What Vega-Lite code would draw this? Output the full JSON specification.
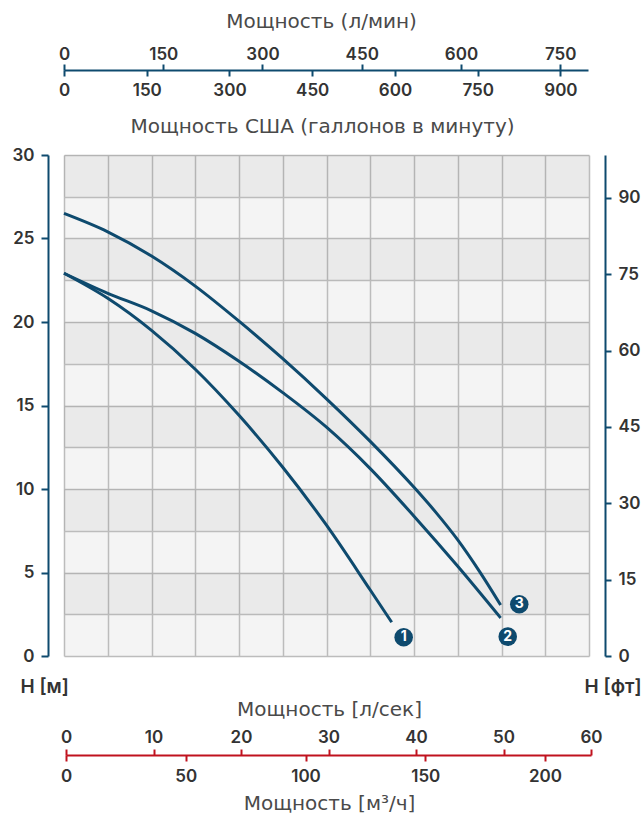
{
  "$schema": "https://vega.github.io/schema/vega-lite/v6.json",
  "width": 525,
  "height": 501,
  "autosize": {"type": "none"},
  "padding": {"left": 64, "top": 155, "right": 55, "bottom": 160},
  "background": "white",
  "config": {
    "view": {"fill": "#f4f4f4", "stroke": null},
    "font": "Inter",
    "axis": {
      "labelFont": "Inter", "labelFontSize": 17, "labelFontWeight": 600, "labelColor": "#333333",
      "titleFont": "DejaVu Sans", "titleFontSize": 20, "titleFontWeight": 400, "titleColor": "#4a4a4a",
      "labelOverlap": false, "labelFlush": false, "labelBound": false, "grid": false,
      "domainWidth": 2, "tickWidth": 2, "tickSize": 6
    }
  },
  "datasets": {
    "curves": [
      {"pump": "1", "q": 0, "h": 22.92}, {"pump": "1", "q": 5, "h": 21.42}, {"pump": "1", "q": 10, "h": 19.5},
      {"pump": "1", "q": 15, "h": 17.17}, {"pump": "1", "q": 20, "h": 14.41}, {"pump": "1", "q": 25, "h": 11.3},
      {"pump": "1", "q": 30, "h": 7.83}, {"pump": "1", "q": 35, "h": 3.95}, {"pump": "1", "q": 37.45, "h": 2.02},
      {"pump": "2", "q": 0, "h": 22.92}, {"pump": "2", "q": 5, "h": 21.72}, {"pump": "2", "q": 10, "h": 20.67},
      {"pump": "2", "q": 15, "h": 19.32}, {"pump": "2", "q": 20, "h": 17.65}, {"pump": "2", "q": 25, "h": 15.77},
      {"pump": "2", "q": 30, "h": 13.7}, {"pump": "2", "q": 35, "h": 11.22}, {"pump": "2", "q": 40, "h": 8.37},
      {"pump": "2", "q": 45, "h": 5.37}, {"pump": "2", "q": 49.9, "h": 2.28},
      {"pump": "3", "q": 0, "h": 26.5}, {"pump": "3", "q": 5, "h": 25.4}, {"pump": "3", "q": 10, "h": 23.95},
      {"pump": "3", "q": 15, "h": 22.15}, {"pump": "3", "q": 20, "h": 20.05}, {"pump": "3", "q": 25, "h": 17.8},
      {"pump": "3", "q": 30, "h": 15.4}, {"pump": "3", "q": 35, "h": 12.85}, {"pump": "3", "q": 40, "h": 10.1},
      {"pump": "3", "q": 42.5, "h": 8.6}, {"pump": "3", "q": 45, "h": 6.95}, {"pump": "3", "q": 47.5, "h": 5.05},
      {"pump": "3", "q": 49.9, "h": 3.05}
    ],
    "labels": [
      {"pump": "1", "q": 38.82, "h": 1.12},
      {"pump": "2", "q": 50.71, "h": 1.16},
      {"pump": "3", "q": 52.03, "h": 3.1}
    ],
    "bands": [
      {"lo": 2.5, "hi": 5}, {"lo": 7.5, "hi": 10}, {"lo": 12.5, "hi": 15},
      {"lo": 17.5, "hi": 20}, {"lo": 22.5, "hi": 25}, {"lo": 27.5, "hi": 30}
    ]
  },
  "layer": [
    {
      "data": {"name": "bands"},
      "mark": {"type": "rect", "fill": "#000000", "fillOpacity": 0.04},
      "encoding": {
        "x": {"datum": 0, "type": "quantitative", "scale": {"domain": [0, 60], "nice": false}, "axis": null},
        "x2": {"datum": 60},
        "y": {"field": "lo", "type": "quantitative", "scale": {"domain": [0, 30], "nice": false},
          "axis": {"orient": "left", "values": [0, 2.5, 5, 7.5, 10, 12.5, 15, 17.5, 20, 22.5, 25, 27.5, 30],
            "grid": true, "gridColor": "#bcbcbc", "gridWidth": 1.5, "labels": false, "ticks": false, "domain": false, "title": null}},
        "y2": {"field": "hi"}
      }
    },
    {
      "data": {"name": "curves"},
      "mark": {"type": "line", "interpolate": "monotone", "strokeWidth": 3, "color": "#0e4a6e", "strokeCap": "butt"},
      "encoding": {
        "x": {"field": "q", "type": "quantitative", "scale": {"domain": [0, 60], "nice": false},
          "axis": {"orient": "bottom", "values": [0, 5, 10, 15, 20, 25, 30, 35, 40, 45, 50, 55, 60],
            "grid": true, "gridColor": "#bcbcbc", "gridWidth": 1.5, "labels": false, "ticks": false, "domain": false, "title": null}},
        "y": {"field": "h", "type": "quantitative", "scale": {"domain": [0, 30], "nice": false},
          "axis": {"orient": "left", "offset": 16, "values": [0, 5, 10, 15, 20, 25, 30],
            "domainColor": "#0e4a6e", "tickColor": "#0e4a6e", "tickSize": 7, "labelPadding": 7,
            "title": "H [м]", "titleAngle": 0, "titleX": -28, "titleY": 531, "titleAlign": "left", "titleBaseline": "middle",
            "titleFont": "Inter", "titleFontWeight": 600, "titleFontSize": 19, "titleColor": "#333333"}},
        "detail": {"field": "pump"}
      }
    },
    {
      "data": {"name": "labels"},
      "mark": {"type": "circle", "size": 345, "opacity": 1, "color": "#0e4a6e"},
      "encoding": {
        "x": {"field": "q", "type": "quantitative", "scale": {"domain": [0, 60], "nice": false}, "axis": null},
        "y": {"field": "h", "type": "quantitative", "scale": {"domain": [0, 30], "nice": false}, "axis": null}
      }
    },
    {
      "data": {"name": "labels"},
      "mark": {"type": "text", "color": "white", "fontWeight": 700, "fontSize": 14, "font": "Inter", "baseline": "middle", "align": "center"},
      "encoding": {
        "x": {"field": "q", "type": "quantitative", "scale": {"domain": [0, 60], "nice": false}, "axis": null},
        "y": {"field": "h", "type": "quantitative", "scale": {"domain": [0, 30], "nice": false}, "axis": null},
        "text": {"field": "pump"}
      }
    },
    {
      "data": {"name": "labels"},
      "mark": {"type": "point", "opacity": 0},
      "encoding": {
        "y": {"field": "h", "type": "quantitative", "scale": {"domain": [0, 98.43], "nice": false},
          "axis": {"orient": "right", "offset": 16, "values": [0, 15, 30, 45, 60, 75, 90],
            "domainColor": "#0e4a6e", "tickColor": "#0e4a6e", "tickSize": 6, "labelPadding": 7,
            "title": "H [фт]", "titleAngle": 0, "titleX": 36, "titleY": 531, "titleAlign": "right", "titleBaseline": "middle",
            "titleFont": "Inter", "titleFontWeight": 600, "titleFontSize": 19, "titleColor": "#333333"}}
      }
    },
    {
      "data": {"name": "labels"},
      "mark": {"type": "point", "opacity": 0},
      "encoding": {
        "x": {"field": "q", "type": "quantitative", "scale": {"domain": [0, 792], "range": [0, 524], "nice": false},
          "axis": {"orient": "top", "offset": 85, "values": [0, 150, 300, 450, 600, 750],
            "domainColor": "#0e4a6e", "tickColor": "#0e4a6e", "labelPadding": 1,
            "title": "Мощность (л/мин)", "titleX": 257, "titleY": -49, "titleBaseline": "middle"}}
      }
    },
    {
      "data": {"name": "labels"},
      "mark": {"type": "point", "opacity": 0},
      "encoding": {
        "x": {"field": "q", "type": "quantitative", "scale": {"domain": [0, 950], "range": [0, 524], "nice": false},
          "axis": {"orient": "bottom", "offset": -586, "values": [0, 150, 300, 450, 600, 750, 900],
            "domain": false, "tickColor": "#0e4a6e", "labelPadding": 6,
            "title": "Мощность США (галлонов в минуту)", "titleX": 258, "titleY": 56, "titleBaseline": "middle"}}
      }
    },
    {
      "data": {"name": "labels"},
      "mark": {"type": "point", "opacity": 0},
      "encoding": {
        "x": {"field": "q", "type": "quantitative", "scale": {"domain": [0, 60], "range": [2, 527], "nice": false},
          "axis": {"orient": "top", "offset": -600, "values": [0, 10, 20, 30, 40, 50, 60],
            "domainColor": "#c0121e", "tickColor": "#c0121e", "labelPadding": 3,
            "title": "Мощность [л/сек]", "titleX": 265, "titleY": -46, "titleBaseline": "middle"}}
      }
    },
    {
      "data": {"name": "labels"},
      "mark": {"type": "point", "opacity": 0},
      "encoding": {
        "x": {"field": "q", "type": "quantitative", "scale": {"domain": [0, 200], "range": [2, 481], "nice": false},
          "axis": {"orient": "bottom", "offset": 99, "values": [0, 50, 100, 150, 200],
            "domain": false, "tickColor": "#c0121e", "labelPadding": 7,
            "title": "Мощность [м³/ч]", "titleX": 265, "titleY": 48, "titleBaseline": "middle"}}
      }
    }
  ],
  "resolve": {"scale": {"x": "independent", "y": "independent"}, "axis": {"x": "independent", "y": "independent"}}
}
